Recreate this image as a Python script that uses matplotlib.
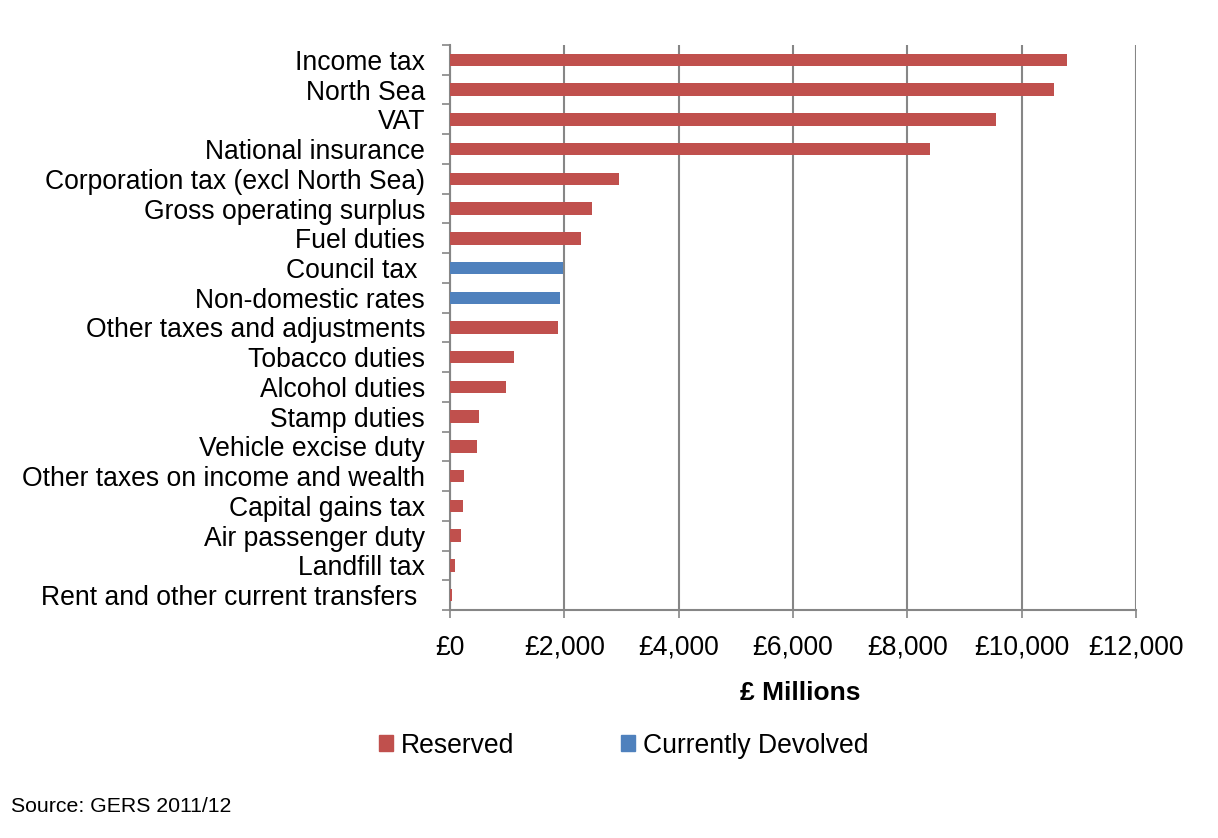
import matplotlib.pyplot as plt
import numpy as np
from matplotlib.patches import Patch

plt.rcParams['font.family'] = ['Liberation Sans', 'DejaVu Sans']

# Data (GERS 2011/12, £ millions)
categories = ['Income tax', 'North Sea', 'VAT', 'National insurance',
              'Corporation tax (excl North Sea)', 'Gross operating surplus',
              'Fuel duties', 'Council tax ', 'Non-domestic rates',
              'Other taxes and adjustments', 'Tobacco duties', 'Alcohol duties',
              'Stamp duties', 'Vehicle excise duty',
              'Other taxes on income and wealth', 'Capital gains tax',
              'Air passenger duty', 'Landfill tax',
              'Rent and other current transfers ']
values = [10790, 10570, 9550, 8390, 2960, 2480, 2290, 1980, 1930, 1890,
          1120, 980, 510, 470, 250, 230, 190, 90, 40]
status = ['Reserved'] * 7 + ['Currently Devolved'] * 2 + ['Reserved'] * 10

colours = {'Reserved': '#C0504D', 'Currently Devolved': '#4F81BD'}
grey = '#868686'

fig = plt.figure(figsize=(12.18, 8.38), dpi=100)
ax = fig.add_axes([0.3695, 0.2721, 0.5632, 0.6742])

y = np.arange(len(categories))
ax.barh(y, values, height=0.42, color=[colours[s] for s in status], zorder=3)

ax.set_ylim(len(categories) - 0.5, -0.5)
ax.set_xlim(0, 12000)
ax.set_xticks(np.arange(0, 12001, 2000))
ax.set_xticklabels([f'£{v:,}' for v in range(0, 12001, 2000)])

# category names between boundary ticks like Excel
ax.set_yticks(y)
ax.set_yticklabels(categories)
ax.set_yticks(np.arange(-0.5, len(categories), 1), minor=True)
ax.tick_params(axis='y', which='major', length=0, pad=18, labelsize=19.1)
ax.tick_params(axis='y', which='minor', length=6, color=grey, width=1.2)
ax.tick_params(axis='x', length=6, color=grey, width=1.2, pad=12, labelsize=19.1)

ax.grid(axis='x', color=grey, linewidth=1.5, zorder=0)
for side in ['top', 'right']:
    ax.spines[side].set_visible(False)
for side in ['left', 'bottom']:
    ax.spines[side].set_color(grey)
    ax.spines[side].set_linewidth(1.5)

ax.set_xlabel('£ Millions', fontsize=19, fontweight='bold')
ax.xaxis.set_label_coords(0.51, -0.125)

handles = [Patch(color=colours['Reserved']), Patch(color=colours['Currently Devolved'])]
fig.legend(handles, ['Reserved', 'Currently Devolved'], loc='center',
           bbox_to_anchor=(0.512, 0.11), ncol=2, frameon=False, fontsize=19.1,
           handlelength=0.55, handleheight=0.55, handletextpad=0.3,
           columnspacing=4.0)

fig.text(0.009, 0.037, 'Source: GERS 2011/12', fontsize=15.3, va='center')

fig.savefig('out.png', dpi=100)
